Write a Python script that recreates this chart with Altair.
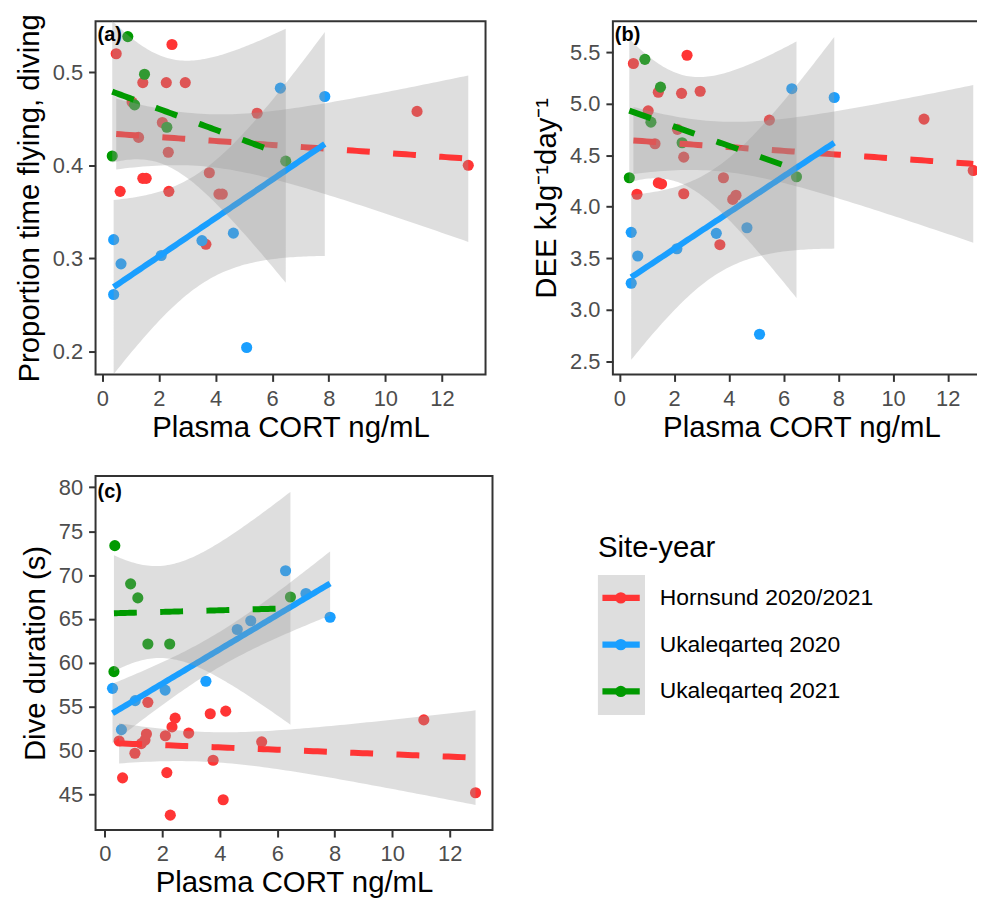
import numpy as np
import pandas as pd
import altair as alt

GROUPS = ["Hornsund 2020/2021", "Ukaleqarteq 2020", "Ukaleqarteq 2021"]
COLORS = ["#FF3535", "#1A9FFF", "#009A00"]
DASHED = [True, False, True]

# ---------------- panel (a): proportion time flying, diving ----------------
a_red_x = [0.49, 2.46, 1.43, 2.26, 2.93, 1.05, 2.12, 5.47, 11.12, 1.28, 2.33, 12.93,
           1.43, 1.55, 0.63, 2.35, 3.78, 4.12, 4.24, 3.66]
a_red_y = [0.520, 0.530, 0.489, 0.489, 0.489, 0.468, 0.446, 0.456, 0.458, 0.430, 0.414, 0.400,
           0.386, 0.386, 0.372, 0.372, 0.392, 0.369, 0.369, 0.315]
a_blue_x = [0.40, 0.66, 0.40, 2.08, 3.52, 4.63, 5.10, 6.29, 7.86]
a_blue_y = [0.320, 0.294, 0.261, 0.303, 0.319, 0.327, 0.204, 0.483, 0.474]
a_green_x = [0.90, 1.49, 1.14, 2.28, 0.35, 6.48]
a_green_y = [0.5385, 0.498, 0.465, 0.441, 0.410, 0.4045]

# ---------------- panel (b): DEE ----------------
b_red_x = [0.51, 2.47, 1.42, 2.27, 2.95, 1.05, 2.12, 5.48, 11.13, 1.30, 2.35, 12.93,
           1.42, 1.54, 0.64, 2.35, 3.80, 4.14, 4.26, 3.67]
b_red_y = [5.39, 5.47, 5.11, 5.10, 5.12, 4.93, 4.75, 4.84, 4.85, 4.61, 4.48, 4.35,
           4.23, 4.22, 4.12, 4.125, 4.28, 4.07, 4.11, 3.63]
b_blue_x = [0.43, 0.67, 0.43, 2.10, 3.54, 4.66, 5.12, 6.30, 7.85]
b_blue_y = [3.75, 3.52, 3.255, 3.59, 3.74, 3.795, 2.76, 5.145, 5.06]
b_green_x = [0.93, 1.50, 1.15, 2.29, 0.36, 6.47]
b_green_y = [5.43, 5.16, 4.82, 4.62, 4.28, 4.29]

# ---------------- panel (c): dive duration ----------------
c_red_x = [0.50, 0.62, 1.05, 1.27, 1.40, 1.45, 1.50, 2.11, 2.34, 2.45, 2.92, 2.16, 2.28,
           3.67, 4.21, 3.77, 4.12, 5.46, 11.10, 12.90]
c_red_y = [51.1, 46.9, 49.7, 50.8, 51.2, 51.9, 55.5, 51.7, 52.7, 53.7, 52.0, 47.5, 42.65,
           54.2, 54.5, 48.9, 44.4, 51.0, 53.5, 45.2]
c_blue_x = [0.27, 0.58, 1.06, 2.10, 3.52, 4.61, 5.08, 6.29, 7.00, 7.84]
c_blue_y = [57.1, 52.4, 55.7, 56.9, 57.9, 63.8, 64.8, 70.5, 67.9, 65.2]
c_green_x = [0.35, 0.90, 1.15, 1.50, 2.26, 0.32, 6.46]
c_green_y = [73.35, 69.0, 67.4, 62.15, 62.15, 59.0, 67.5]

X_TICKS = [0, 2, 4, 6, 8, 10, 12]
X_TITLE = "Plasma CORT ng/mL"

# two-sided 95% t quantiles by residual degrees of freedom
T975 = {4: 2.776, 5: 2.571, 7: 2.365, 8: 2.306, 18: 2.101}


def lm_fit(x, y, n=80):
    x = np.asarray(x, float)
    y = np.asarray(y, float)
    b, a = np.polyfit(x, y, 1)
    xs = np.linspace(x.min(), x.max(), n)
    yh = a + b * xs
    res = y - (a + b * x)
    dof = len(x) - 2
    s = np.sqrt((res ** 2).sum() / dof)
    sxx = ((x - x.mean()) ** 2).sum()
    se = s * np.sqrt(1.0 / len(x) + (xs - x.mean()) ** 2 / sxx)
    t = T975[dof]
    return pd.DataFrame({"x": xs, "fit": yh, "lo": yh - t * se, "hi": yh + t * se})


def build_tables(series):
    pts, fits = [], []
    for g, (xv, yv) in zip(GROUPS, series):
        pts.append(pd.DataFrame({"x": xv, "y": yv, "group": g}))
        f = lm_fit(xv, yv)
        f["group"] = g
        fits.append(f)
    return pd.concat(pts, ignore_index=True), pd.concat(fits, ignore_index=True)


def panel(series, xdom, ydom, yticks, yfmt, ytitle, tag, w, h, tag_y):
    pts, fits = build_tables(series)
    xs = alt.Scale(domain=xdom, nice=False, zero=False)
    ys = alt.Scale(domain=ydom, nice=False, zero=False)
    xax = alt.Axis(values=X_TICKS, title=X_TITLE)
    yax = alt.Axis(values=yticks, format=yfmt, title=ytitle)

    def X(f):
        return alt.X(f"{f}:Q", scale=xs, axis=xax, title=X_TITLE)

    def Y(f):
        return alt.Y(f"{f}:Q", scale=ys, axis=yax, title=ytitle)

    layers = [
        alt.Chart(pts).mark_circle(size=125, opacity=1).encode(
            x=X("x"), y=Y("y"),
            color=alt.Color("group:N", scale=alt.Scale(domain=GROUPS, range=COLORS), legend=None),
        )
    ]
    for g, col, dashed in zip(GROUPS, COLORS, DASHED):
        f = fits[fits["group"] == g]
        layers.append(
            alt.Chart(f).mark_area(color="#999999", opacity=0.32).encode(
                x=X("x"), y=Y("lo"), y2="hi:Q"
            )
        )
        lkw = dict(strokeWidth=6, color=col, strokeCap="butt")
        if dashed:
            lkw["strokeDash"] = [23, 23.5]
        layers.append(alt.Chart(f).mark_line(**lkw).encode(x=X("x"), y=Y("fit")))
    layers.append(
        alt.Chart(pd.DataFrame({"t": [tag]})).mark_text(
            align="left", baseline="middle", fontSize=20, fontWeight="bold",
            font="Liberation Sans", color="#000000",
        ).encode(text="t:N", x=alt.value(2), y=alt.value(tag_y))
    )
    return alt.layer(*layers).properties(
        width=w, height=h, view=alt.ViewBackground(stroke="#333333", strokeWidth=2)
    )


pa = panel([(a_red_x, a_red_y), (a_blue_x, a_blue_y), (a_green_x, a_green_y)],
           [-0.24, 13.54], [0.175, 0.555], [0.2, 0.3, 0.4, 0.5], ".1f",
           "Proportion time flying, diving", "(a)", 392, 355, 14)
pb = panel([(b_red_x, b_red_y), (b_blue_x, b_blue_y), (b_green_x, b_green_y)],
           [-0.24, 13.54], [2.37, 5.80], [2.5, 3.0, 3.5, 4.0, 4.5, 5.0, 5.5], ".1f",
           "DEE kJg\u207b\u00b9day\u207b\u00b9", "(b)", 379, 355, 14)
pc = panel([(c_red_x, c_red_y), (c_blue_x, c_blue_y), (c_green_x, c_green_y)],
           [-0.32, 13.49], [40.95, 81.3], [45, 50, 55, 60, 65, 70, 75, 80], "d",
           "Dive duration (s)", "(c)", 399, 356, 16)

# ---------------- custom legend ----------------
leg_df = pd.DataFrame({"group": GROUPS})
LY = alt.Y("group:N", scale=alt.Scale(type="point", domain=GROUPS, range=[122.6, 216.6], padding=0),
           axis=None)
LC = alt.Color("group:N", scale=alt.Scale(domain=GROUPS, range=COLORS), legend=None)
leg_base = alt.Chart(leg_df)
legend = alt.layer(
    leg_base.mark_rect(color="#DEDEDE").encode(
        x=alt.value(0), x2=alt.value(47), y=alt.value(99.5), y2=alt.value(240)),
    leg_base.mark_rule(strokeWidth=6.5).encode(x=alt.value(4.5), x2=alt.value(42), y=LY, color=LC),
    leg_base.mark_circle(size=130, opacity=1).encode(x=alt.value(23), y=LY, color=LC),
    leg_base.mark_text(align="left", baseline="middle", fontSize=23, font="Liberation Sans",
                       color="#000000").encode(x=alt.value(62), y=LY, text="group:N"),
    alt.Chart(pd.DataFrame({"t": ["Site-year"]})).mark_text(
        align="left", baseline="alphabetic", fontSize=29.5, font="Liberation Sans",
        color="#000000").encode(x=alt.value(0), y=alt.value(81.5), text="t:N"),
).properties(width=300, height=356, view=alt.ViewBackground(stroke="transparent"))

row1 = alt.hconcat(pa, pb, spacing=44)
row2 = alt.hconcat(pc, legend, spacing=105)

chart = (
    alt.vconcat(row1, row2, spacing=32)
    .properties(padding={"left": 5, "top": 2, "right": -14, "bottom": 5})
    .configure_view(strokeWidth=0)
    .configure_axis(
        labelFont="Liberation Sans", titleFont="Liberation Sans",
        labelFontSize=22, titleFontSize=29.5, labelColor="#4D4D4D", titleColor="#000000",
        titleFontWeight="normal", tickSize=7, tickWidth=2, tickColor="#333333",
        domain=False, grid=False,
    )
    .configure_axisX(labelPadding=7, titlePadding=4)
    .configure_axisY(labelPadding=6, titlePadding=8)
)

chart.save("out.html", embed_options={"renderer": "svg", "actions": False})
